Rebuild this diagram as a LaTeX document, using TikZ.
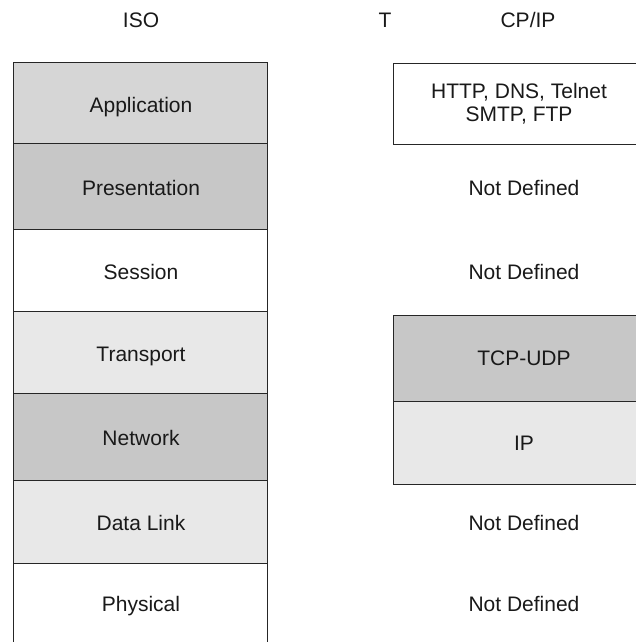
\documentclass[tikz,border=0pt]{standalone}
\usepackage{fontspec}
\setmainfont{Liberation Sans}
\begin{document}
\begin{tikzpicture}[x=1pt,y=-1pt,
  lbl/.style={font=\fontsize{21}{23}\selectfont, text=black!90, align=center, inner sep=0pt, anchor=base},
  layer/.style={draw=black!85, line width=1.3pt, rectangle, inner sep=0pt, anchor=north west},
  dark/.style={fill=black!22},
  mid/.style={fill=black!16},
  light/.style={fill=black!9},
  white/.style={fill=white}]
\useasboundingbox (0,0) rectangle (636,642);
\begin{scope}
\clip (0,0) rectangle (636,642);
% headings
\node[lbl] (iso) at (141,28) {ISO};
\node[lbl] (t) at (385,28) {T};
\node[lbl] (tcpip) at (528,28) {CP/IP};
% ISO stack
\node[layer,mid,  minimum width=254pt, minimum height=81pt] (app) at (13,62) {};
\node[layer,dark, minimum width=254pt, minimum height=86pt] (pres) at (13,143) {};
\node[layer,white,minimum width=254pt, minimum height=82pt] (sess) at (13,229) {};
\node[layer,light,minimum width=254pt, minimum height=82pt] (trans) at (13,311) {};
\node[layer,dark, minimum width=254pt, minimum height=87pt] (net) at (13,393) {};
\node[layer,light,minimum width=254pt, minimum height=83pt] (dl) at (13,480) {};
\node[layer,white,minimum width=254pt, minimum height=100pt] (phys) at (13,563) {};
\node[lbl] (appl) at (141,112) {Application};
\node[lbl] (presl) at (141,195) {Presentation};
\node[lbl] (sessl) at (141,279) {Session};
\node[lbl] (transl) at (141,361) {Transport};
\node[lbl] (netl) at (141,445) {Network};
\node[lbl] (dll) at (141,530) {Data Link};
\node[lbl] (physl) at (141,611) {Physical};
% TCP/IP stack
\node[layer,white,minimum width=260pt, minimum height=81pt] (http) at (393,63) {};
\node[lbl, anchor=center] (httpl) at (519,104) {HTTP, DNS, Telnet\\SMTP, FTP};
\node[lbl] (nd1) at (524,195) {Not Defined};
\node[lbl] (nd2) at (524,279) {Not Defined};
\node[layer,dark, minimum width=260pt, minimum height=86pt] (tcp) at (393,315) {};
\node[lbl] (tcpl) at (524,365) {TCP-UDP};
\node[layer,light,minimum width=260pt, minimum height=83pt] (ip) at (393,401) {};
\node[lbl] (ipl) at (524,450) {IP};
\node[lbl] (nd3) at (524,530) {Not Defined};
\node[lbl] (nd4) at (524,611) {Not Defined};
\end{scope}
\end{tikzpicture}
\end{document}
